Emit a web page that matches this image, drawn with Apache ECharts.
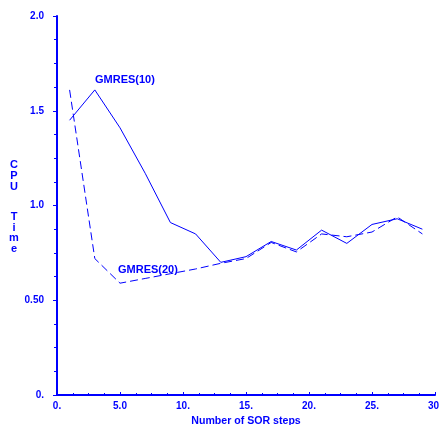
<!DOCTYPE html>
<html>
<head>
<meta charset="utf-8">
<script src="https://cdn.jsdelivr.net/npm/echarts@6/dist/echarts.min.js"></script>
<style>
  html, body { margin: 0; padding: 0; background: #fff; }
  #chart { width: 439px; height: 425px; }
</style>
</head>
<body>
<div id="chart"></div>
<script>
// SOR steps per preconditioning sweep
const sorSteps = [1, 3, 5, 7, 9, 11, 13, 15, 17, 19, 21, 23, 25, 27, 29];
// CPU time for each restart length
const gmres10 = [1.45, 1.61, 1.41, 1.17, 0.91, 0.85, 0.70, 0.73, 0.81, 0.765, 0.87, 0.80, 0.90, 0.93, 0.875];
const gmres20 = [1.61, 0.72, 0.59, 0.615, 0.64, 0.665, 0.695, 0.72, 0.805, 0.755, 0.85, 0.835, 0.86, 0.94, 0.85];
// Axis tick labels
const xTickLabels = { 0: '0.', 5: '5.0', 10: '10.', 15: '15.', 20: '20.', 25: '25.', 30: '30.' };
const yTickLabels = { 0: '0.', 0.5: '0.50', 1: '1.0', 1.5: '1.5', 2: '2.0' };

const BLUE = '#0000ff';
const FONT = 'Liberation Sans, Arial, sans-serif';

const chart = echarts.init(document.getElementById('chart'), null, { renderer: 'canvas' });

const pairs = ys => sorSteps.map((x, i) => [x, ys[i]]);

chart.setOption({
  animation: false,
  backgroundColor: '#ffffff',
  grid: { left: 57, right: 4, top: 16, bottom: 30, containLabel: false, outerBoundsMode: 'none' },
  xAxis: {
    type: 'value', min: 0, max: 30, interval: 5,
    name: 'Number of SOR steps', nameLocation: 'middle', nameGap: 19,
    nameTextStyle: { color: BLUE, fontFamily: FONT, fontWeight: 'bold', fontSize: 10.6 },
    axisLine: { show: true, lineStyle: { color: BLUE, width: 2 } },
    axisTick: { show: true, inside: true, length: 3, lineStyle: { color: BLUE, width: 1 } },
    minorTick: { show: true, splitNumber: 4, length: 2, lineStyle: { color: BLUE, width: 1 } },
    splitLine: { show: false },
    axisLabel: {
      color: BLUE, fontFamily: FONT, fontWeight: 'bold', fontSize: 10, margin: 6,
      hideOverlap: false,
      formatter: v => xTickLabels[v] !== undefined ? xTickLabels[v] : ''
    }
  },
  yAxis: {
    type: 'value', min: 0, max: 2, interval: 0.5,
    axisLine: { show: true, lineStyle: { color: BLUE, width: 2 } },
    axisTick: { show: true, inside: false, length: 4, lineStyle: { color: BLUE, width: 1 } },
    minorTick: { show: true, splitNumber: 4, length: 3, lineStyle: { color: BLUE, width: 1 } },
    splitLine: { show: false },
    axisLabel: {
      color: BLUE, fontFamily: FONT, fontWeight: 'bold', fontSize: 10, margin: 13,
      formatter: v => yTickLabels[v] !== undefined ? yTickLabels[v] : ''
    }
  },
  series: [
    {
      name: 'GMRES(10)', type: 'line', data: pairs(gmres10),
      symbol: 'none', lineStyle: { color: BLUE, width: 1, type: 'solid' }
    },
    {
      name: 'GMRES(20)', type: 'line', data: pairs(gmres20),
      symbol: 'none', lineStyle: { color: BLUE, width: 1, type: [8, 4] }
    }
  ],
  graphic: [
    {
      type: 'text', x: 14, y: 176,
      style: {
        text: 'C\nP\nU', fill: BLUE, font: 'bold 11px ' + FONT,
        textAlign: 'center', textVerticalAlign: 'middle', lineHeight: 11
      }
    },
    {
      type: 'text', x: 14, y: 233,
      style: {
        text: 'T\ni\nm\ne', fill: BLUE, font: 'bold 11px ' + FONT,
        textAlign: 'center', textVerticalAlign: 'middle', lineHeight: 10.7
      }
    },
    {
      type: 'text', x: 95, y: 80,
      style: { text: 'GMRES(10)', fill: BLUE, font: 'bold 11px ' + FONT, textAlign: 'left', textVerticalAlign: 'middle' }
    },
    {
      type: 'text', x: 118, y: 270,
      style: { text: 'GMRES(20)', fill: BLUE, font: 'bold 11px ' + FONT, textAlign: 'left', textVerticalAlign: 'middle' }
    }
  ]
});
</script>
</body>
</html>
